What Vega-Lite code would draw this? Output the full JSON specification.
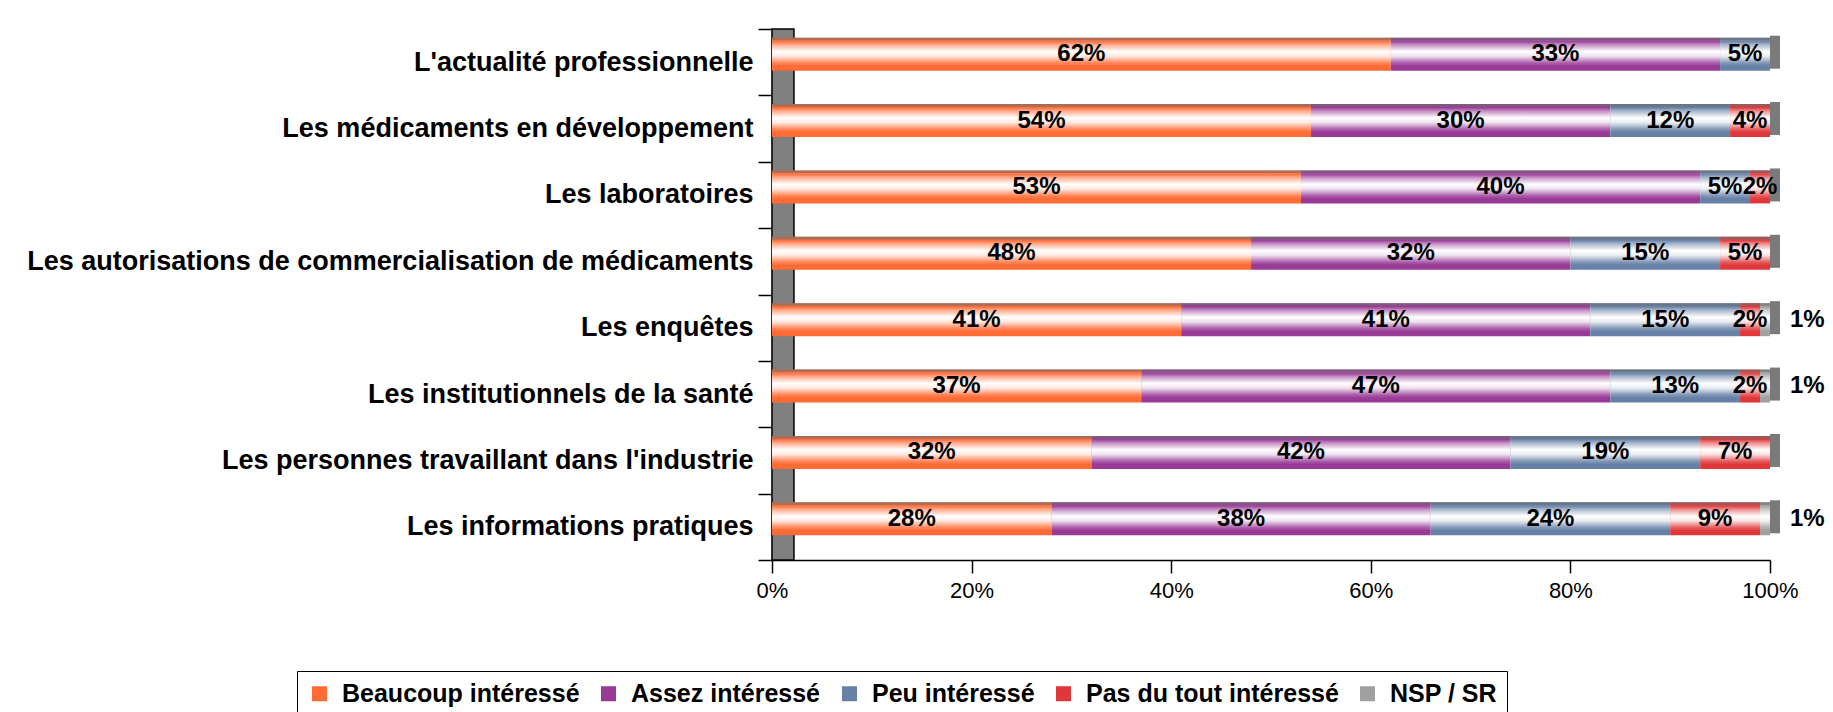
{
  "$schema": "https://vega.github.io/schema/vega-lite/v6.json",
  "width": 998,
  "height": 531,
  "autosize": {"type": "none"},
  "padding": {"left": 772, "top": 29, "right": 63, "bottom": 152},
  "background": "white",
  "config": {
    "view": {"stroke": null},
    "font": "Liberation Sans"
  },
  "data": {
    "values": [
      {"cat": "L'actualité professionnelle", "s": "Beaucoup intéressé", "v": 0.62},
      {"cat": "L'actualité professionnelle", "s": "Assez intéressé", "v": 0.33},
      {"cat": "L'actualité professionnelle", "s": "Peu intéressé", "v": 0.05},
      {"cat": "Les médicaments en développement", "s": "Beaucoup intéressé", "v": 0.54},
      {"cat": "Les médicaments en développement", "s": "Assez intéressé", "v": 0.30},
      {"cat": "Les médicaments en développement", "s": "Peu intéressé", "v": 0.12},
      {"cat": "Les médicaments en développement", "s": "Pas du tout intéressé", "v": 0.04},
      {"cat": "Les laboratoires", "s": "Beaucoup intéressé", "v": 0.53},
      {"cat": "Les laboratoires", "s": "Assez intéressé", "v": 0.40},
      {"cat": "Les laboratoires", "s": "Peu intéressé", "v": 0.05},
      {"cat": "Les laboratoires", "s": "Pas du tout intéressé", "v": 0.02},
      {"cat": "Les autorisations de commercialisation de médicaments", "s": "Beaucoup intéressé", "v": 0.48},
      {"cat": "Les autorisations de commercialisation de médicaments", "s": "Assez intéressé", "v": 0.32},
      {"cat": "Les autorisations de commercialisation de médicaments", "s": "Peu intéressé", "v": 0.15},
      {"cat": "Les autorisations de commercialisation de médicaments", "s": "Pas du tout intéressé", "v": 0.05},
      {"cat": "Les enquêtes", "s": "Beaucoup intéressé", "v": 0.41},
      {"cat": "Les enquêtes", "s": "Assez intéressé", "v": 0.41},
      {"cat": "Les enquêtes", "s": "Peu intéressé", "v": 0.15},
      {"cat": "Les enquêtes", "s": "Pas du tout intéressé", "v": 0.02},
      {"cat": "Les enquêtes", "s": "NSP / SR", "v": 0.01},
      {"cat": "Les institutionnels de la santé", "s": "Beaucoup intéressé", "v": 0.37},
      {"cat": "Les institutionnels de la santé", "s": "Assez intéressé", "v": 0.47},
      {"cat": "Les institutionnels de la santé", "s": "Peu intéressé", "v": 0.13},
      {"cat": "Les institutionnels de la santé", "s": "Pas du tout intéressé", "v": 0.02},
      {"cat": "Les institutionnels de la santé", "s": "NSP / SR", "v": 0.01},
      {"cat": "Les personnes travaillant dans l'industrie", "s": "Beaucoup intéressé", "v": 0.32},
      {"cat": "Les personnes travaillant dans l'industrie", "s": "Assez intéressé", "v": 0.42},
      {"cat": "Les personnes travaillant dans l'industrie", "s": "Peu intéressé", "v": 0.19},
      {"cat": "Les personnes travaillant dans l'industrie", "s": "Pas du tout intéressé", "v": 0.07},
      {"cat": "Les informations pratiques", "s": "Beaucoup intéressé", "v": 0.28},
      {"cat": "Les informations pratiques", "s": "Assez intéressé", "v": 0.38},
      {"cat": "Les informations pratiques", "s": "Peu intéressé", "v": 0.24},
      {"cat": "Les informations pratiques", "s": "Pas du tout intéressé", "v": 0.09},
      {"cat": "Les informations pratiques", "s": "NSP / SR", "v": 0.01}
    ]
  },
  "transform": [
    {"stack": "v", "groupby": ["cat"], "as": ["v0", "v1"]}
  ],
  "layer": [
    {
      "data": {"values": [{"wall": "mur"}]},
      "mark": {"type": "rect", "fill": "#808080", "stroke": "black", "strokeWidth": 1.5},
      "encoding": {
        "x": {"datum": 0, "type": "quantitative", "scale": {"domain": [0, 1]}},
        "x2": {"datum": 0.022}
      }
    },
    {
      "mark": {"type": "bar", "size": 33, "yOffset": -8},
      "encoding": {
        "y": {
          "field": "cat", "type": "nominal",
          "sort": ["L'actualité professionnelle", "Les médicaments en développement", "Les laboratoires", "Les autorisations de commercialisation de médicaments", "Les enquêtes", "Les institutionnels de la santé", "Les personnes travaillant dans l'industrie", "Les informations pratiques"],
          "scale": {"paddingInner": 0, "paddingOuter": 0},
          "axis": {
            "title": null, "domainColor": "black", "domainWidth": 1.5,
            "tickColor": "black", "tickWidth": 1.5, "tickSize": 14, "tickBand": "extent",
            "labelFont": "Liberation Sans", "labelFontSize": 27, "labelFontWeight": "bold",
            "labelColor": "black", "labelPadding": 5, "labelLimit": 1000, "grid": false
          }
        },
        "x": {
          "field": "v0", "type": "quantitative",
          "scale": {"domain": [0, 1], "nice": false},
          "axis": {
            "title": null, "values": [0, 0.2, 0.4, 0.6, 0.8, 1], "format": ".0%",
            "domainColor": "black", "domainWidth": 1.5, "tickColor": "black", "tickWidth": 1.5,
            "tickSize": 13, "labelFont": "Liberation Sans", "labelFontSize": 22,
            "labelColor": "black", "labelPadding": 7, "labelFlush": false, "labelOverlap": false, "grid": false
          }
        },
        "x2": {"field": "v1"},
        "color": {
          "field": "s", "type": "nominal",
          "scale": {
            "domain": ["Beaucoup intéressé", "Assez intéressé", "Peu intéressé", "Pas du tout intéressé", "NSP / SR"],
            "range": ["#FF6B35", "#993A97", "#6680A6", "#E0383A", "#A0A0A0"]
          },
          "legend": {
            "title": null, "orient": "none", "legendX": -475, "legendY": 642,
            "direction": "horizontal", "strokeColor": "black", "padding": 10,
            "symbolType": "square", "symbolSize": 225, "symbolStrokeWidth": 0,
            "labelFont": "Liberation Sans", "labelFontSize": 25, "labelFontWeight": "bold",
            "labelColor": "black", "labelOffset": 10, "columnPadding": 16, "labelLimit": 500
          }
        }
      }
    },
    {
      "mark": {
        "type": "bar", "size": 33, "yOffset": -8,
        "fill": {
          "gradient": "linear", "x1": 0, "y1": 0, "x2": 0, "y2": 1,
          "stops": [
            {"offset": 0, "color": "rgba(110,110,110,0.7)"},
            {"offset": 0.08, "color": "rgba(110,110,110,0.45)"},
            {"offset": 0.1, "color": "rgba(255,255,255,0)"},
            {"offset": 0.22, "color": "rgba(255,255,255,0.45)"},
            {"offset": 0.42, "color": "rgba(255,255,255,1)"},
            {"offset": 0.56, "color": "rgba(255,255,255,0.85)"},
            {"offset": 0.76, "color": "rgba(255,255,255,0.2)"},
            {"offset": 0.86, "color": "rgba(255,255,255,0)"},
            {"offset": 1, "color": "rgba(255,255,255,0)"}
          ]
        }
      },
      "encoding": {
        "y": {"field": "cat", "type": "nominal", "sort": ["L'actualité professionnelle", "Les médicaments en développement", "Les laboratoires", "Les autorisations de commercialisation de médicaments", "Les enquêtes", "Les institutionnels de la santé", "Les personnes travaillant dans l'industrie", "Les informations pratiques"]},
        "x": {"field": "v0", "type": "quantitative"},
        "x2": {"field": "v1"}
      }
    },
    {
      "transform": [{"aggregate": [{"op": "max", "field": "v1", "as": "fin"}], "groupby": ["cat"]}],
      "mark": {"type": "tick", "size": 33, "thickness": 10, "xOffset": 5, "yOffset": -10, "color": "#7A7A7A", "opacity": 1},
      "encoding": {
        "y": {"field": "cat", "type": "nominal", "sort": ["L'actualité professionnelle", "Les médicaments en développement", "Les laboratoires", "Les autorisations de commercialisation de médicaments", "Les enquêtes", "Les institutionnels de la santé", "Les personnes travaillant dans l'industrie", "Les informations pratiques"]},
        "x": {"field": "fin", "type": "quantitative"}
      }
    },
    {
      "transform": [
        {"filter": "datum.s !== 'NSP / SR'"},
        {"fold": ["v0", "v1"], "as": ["bord", "pos"]},
        {"aggregate": [{"op": "mean", "field": "pos", "as": "milieu"}], "groupby": ["cat", "s", "v"]}
      ],
      "mark": {"type": "text", "font": "Liberation Sans", "fontWeight": "bold", "fontSize": 24, "color": "black", "yOffset": -8, "baseline": "middle", "align": "center"},
      "encoding": {
        "y": {"field": "cat", "type": "nominal", "sort": ["L'actualité professionnelle", "Les médicaments en développement", "Les laboratoires", "Les autorisations de commercialisation de médicaments", "Les enquêtes", "Les institutionnels de la santé", "Les personnes travaillant dans l'industrie", "Les informations pratiques"]},
        "x": {"field": "milieu", "type": "quantitative"},
        "text": {"field": "v", "type": "quantitative", "format": ".0%"}
      }
    },
    {
      "transform": [{"filter": "datum.s === 'NSP / SR'"}],
      "mark": {"type": "text", "font": "Liberation Sans", "fontWeight": "bold", "fontSize": 24, "color": "black", "yOffset": -8, "dx": 20, "baseline": "middle", "align": "left"},
      "encoding": {
        "y": {"field": "cat", "type": "nominal", "sort": ["L'actualité professionnelle", "Les médicaments en développement", "Les laboratoires", "Les autorisations de commercialisation de médicaments", "Les enquêtes", "Les institutionnels de la santé", "Les personnes travaillant dans l'industrie", "Les informations pratiques"]},
        "x": {"field": "v1", "type": "quantitative"},
        "text": {"field": "v", "type": "quantitative", "format": ".0%"}
      }
    }
  ]
}
